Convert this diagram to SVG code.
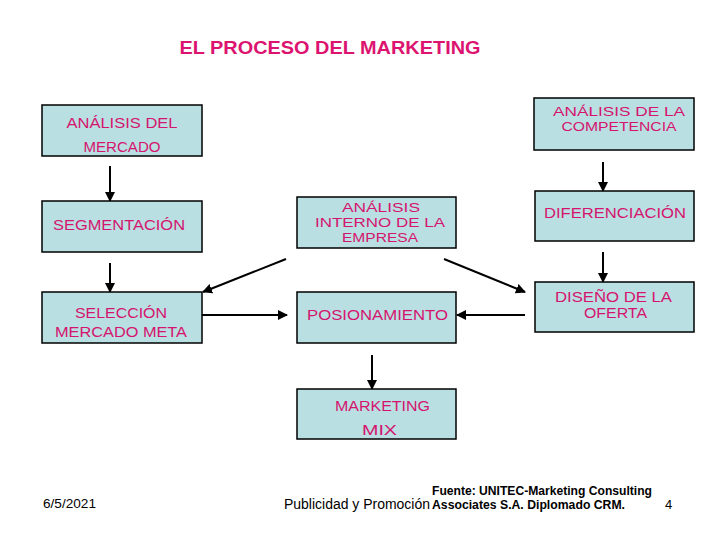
<svg xmlns="http://www.w3.org/2000/svg" width="720" height="540" viewBox="0 0 720 540">
<style>
.box{fill:#badfe2;stroke:#000;stroke-width:1.5}
.t{font-family:"Liberation Sans",Arial,sans-serif;font-size:15px;fill:#d4146e;text-anchor:middle}
.s{font-size:13px}
.title{font-family:"Liberation Sans",Arial,sans-serif;font-size:19px;font-weight:bold;fill:#dc1470;text-anchor:middle}
.c{stroke:#000;stroke-width:2;fill:none;marker-end:url(#ah)}
.f{font-family:"Liberation Sans",Arial,sans-serif;fill:#000}
</style>
<defs>
<marker id="ah" viewBox="0 0 10 10" refX="9" refY="5" markerWidth="5" markerHeight="5" orient="auto" markerUnits="strokeWidth">
<path d="M0,0 L10,5 L0,10 z" fill="#000"/>
</marker>
</defs>
<rect width="720" height="540" fill="#fff"/>
<text class="title" x="330" y="54" textLength="301" lengthAdjust="spacingAndGlyphs">EL PROCESO DEL MARKETING</text>

<g id="connectors">
<line class="c" x1="110" y1="166" x2="110" y2="201"/>
<line class="c" x1="110" y1="263" x2="110" y2="292"/>
<line class="c" x1="603" y1="162" x2="603" y2="191"/>
<line class="c" x1="603" y1="252" x2="603" y2="282"/>
<line class="c" x1="286" y1="259" x2="203" y2="292"/>
<line class="c" x1="202" y1="315" x2="287" y2="315"/>
<line class="c" x1="444" y1="259" x2="525" y2="292"/>
<line class="c" x1="525" y1="315" x2="457" y2="315"/>
<line class="c" x1="372" y1="355" x2="372" y2="389"/>
</g>

<g id="mercado">
<rect class="box" x="42" y="105" width="160" height="51"/>
<text class="t" x="122" y="128" textLength="111" lengthAdjust="spacingAndGlyphs">ANÁLISIS DEL</text>
<text class="t" x="122" y="152" textLength="77" lengthAdjust="spacingAndGlyphs">MERCADO</text>
</g>
<g id="competencia">
<rect class="box" x="534" y="98" width="160" height="52"/>
<text class="t s" x="619" y="116" textLength="132" lengthAdjust="spacingAndGlyphs">ANÁLISIS DE LA</text>
<text class="t s" x="619" y="131" textLength="115" lengthAdjust="spacingAndGlyphs">COMPETENCIA</text>
</g>
<g id="segmentacion">
<rect class="box" x="42" y="201" width="160" height="51"/>
<text class="t" x="119" y="230" textLength="132" lengthAdjust="spacingAndGlyphs">SEGMENTACIÓN</text>
</g>
<g id="seleccion">
<rect class="box" x="42" y="292" width="160" height="51"/>
<text class="t" x="121" y="318" textLength="92" lengthAdjust="spacingAndGlyphs">SELECCIÓN</text>
<text class="t" x="121" y="337" textLength="132" lengthAdjust="spacingAndGlyphs">MERCADO META</text>
</g>
<g id="interno">
<rect class="box" x="297" y="197" width="159" height="51"/>
<text class="t s" x="381" y="212" textLength="78" lengthAdjust="spacingAndGlyphs">ANÁLISIS</text>
<text class="t s" x="380" y="227" textLength="130" lengthAdjust="spacingAndGlyphs">INTERNO DE LA</text>
<text class="t s" x="380" y="242" textLength="76" lengthAdjust="spacingAndGlyphs">EMPRESA</text>
</g>
<g id="posicionamiento">
<rect class="box" x="297" y="292" width="159" height="51"/>
<text class="t" x="377.5" y="320" textLength="141" lengthAdjust="spacingAndGlyphs">POSIONAMIENTO</text>
</g>
<g id="diferenciacion">
<rect class="box" x="535" y="191" width="159" height="50"/>
<text class="t" x="615" y="218" textLength="142" lengthAdjust="spacingAndGlyphs">DIFERENCIACIÓN</text>
</g>
<g id="diseno">
<rect class="box" x="535" y="282" width="159" height="50"/>
<text class="t" x="613.5" y="302" textLength="117" lengthAdjust="spacingAndGlyphs">DISEÑO DE LA</text>
<text class="t" x="615.5" y="318" textLength="63" lengthAdjust="spacingAndGlyphs">OFERTA</text>
</g>
<g id="mix">
<rect class="box" x="297" y="389" width="159" height="50"/>
<text class="t" x="382.5" y="411" textLength="95" lengthAdjust="spacingAndGlyphs">MARKETING</text>
<text class="t" x="379.5" y="435" textLength="35" lengthAdjust="spacingAndGlyphs">MIX</text>
</g>

<g id="footer">
<text class="f" x="43" y="508" font-size="13" textLength="53" lengthAdjust="spacingAndGlyphs">6/5/2021</text>
<text class="f" x="284" y="509" font-size="14" textLength="146" lengthAdjust="spacingAndGlyphs">Publicidad y Promoción</text>
<text class="f" x="432" y="495" font-size="12" font-weight="bold" textLength="220" lengthAdjust="spacingAndGlyphs">Fuente: UNITEC-Marketing Consulting</text>
<text class="f" x="432" y="509" font-size="12" font-weight="bold" textLength="193" lengthAdjust="spacingAndGlyphs">Associates S.A. Diplomado CRM.</text>
<text class="f" x="665" y="509" font-size="13">4</text>
</g>
</svg>
